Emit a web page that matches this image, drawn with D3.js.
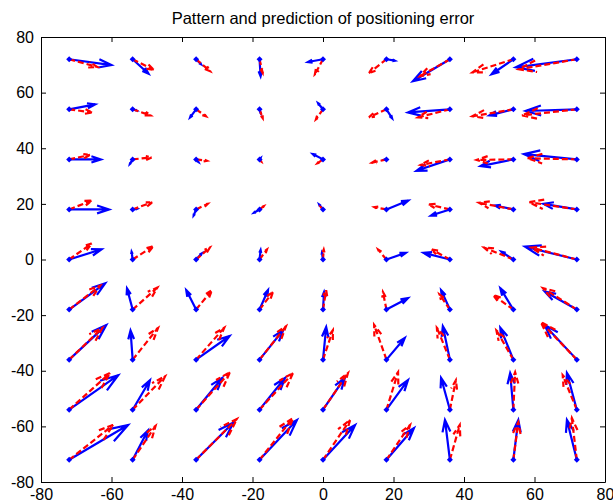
<html>
<head>
<meta charset="UTF-8">
<script src="https://d3js.org/d3.v7.min.js"></script>
<style>
    body { margin: 0; background: #fff; }
    text { font-family: "Liberation Sans", Arial, sans-serif; }
</style>
</head>
<body>
<svg width="613" height="503" id="canvas"></svg>
<script>
    // grid positions
    var gridX = [-72, -54, -36, -18, 0, 18, 36, 54, 72];
    var gridY = [72, 54, 36, 18, 0, -18, -36, -54, -72];
    var xTicks = [-80, -60, -40, -20, 0, 20, 40, 60, 80];
    var yTicks = [-80, -60, -40, -20, 0, 20, 40, 60, 80];

    // prediction (blue), one row per gridY value
    var blueU = [
        [12.0, 4.5, 1.4, 0.3, -4.3, 2.4, -10.5, -6.2, -17.3],
        [7.4, 1.1, -1.7, 0.3, -1.4, 1.6, -11.9, -6.8, -14.5],
        [9.0, -0.8, 0.7, 0.3, -2.9, -0.5, -9.5, -9.3, -15.0],
        [11.3, 1.2, -0.7, -1.6, -1.1, 6.2, -5.4, -5.2, -9.5],
        [9.2, -0.3, 1.6, 0.3, -0.3, 5.5, -7.5, -3.4, -14.7],
        [10.2, -1.6, -2.8, 2.4, 0.3, 6.1, -2.5, -3.7, -9.1],
        [10.5, -0.6, 9.5, 6.7, 0.9, 5.2, -2.0, -3.7, -9.1],
        [13.9, 4.9, 7.4, 7.2, 6.2, 6.1, -2.5, -0.9, -2.8],
        [16.7, 4.3, 10.6, 10.6, 9.1, 7.8, -1.4, 1.4, -2.8]
    ];
    var blueV = [
        [-2.1, -5.2, -1.8, -6.1, -1.0, -0.5, -7.9, -5.4, -2.9],
        [1.8, -0.4, -2.9, -1.4, 2.2, -3.2, -1.1, -2.2, -0.6],
        [0, -1.7, -1.0, 0.5, 1.9, 0, -4.1, -2.4, 1.9],
        [0, 0.2, -2.2, -1.2, 1.8, 3.2, -2.2, 1.4, 2.0],
        [3.7, 2.8, 2.2, 3.4, 2.4, 2.4, 2.4, 2.8, 4.6],
        [9.4, 7.6, 7.0, 7.0, 6.3, 4.1, 7.0, 7.7, 6.5],
        [12.4, 10.5, 8.5, 10.6, 11.7, 7.8, 12.0, 11.5, 12.4],
        [12.4, 10.6, 11.4, 11.4, 11.4, 10.6, 11.4, 13.2, 13.2],
        [12.5, 10.5, 13.4, 14.3, 12.5, 11.4, 14.3, 14.3, 14.3]
    ];
    // pattern (red)
    var redU = [
        [8.0, 6.0, 4.0, 0.9, -2.3, -5.0, -8.5, -11.6, -16.5],
        [6.5, 5.1, 2.8, 0.9, -2.0, -5.0, -9.1, -11.6, -15.6],
        [5.9, 5.4, 3.1, 0.5, -1.6, -4.1, -8.3, -10.4, -14.0],
        [6.4, 5.6, 3.3, 1.2, -0.6, -3.4, -6.0, -9.8, -13.5],
        [6.4, 5.9, 3.9, 2.1, 0.2, -2.4, -5.2, -8.3, -12.9],
        [8.8, 7.0, 4.5, 3.8, 0.9, -1.0, -3.0, -5.7, -9.6],
        [9.4, 7.2, 8.0, 7.5, 2.8, -3.5, -3.7, -4.8, -10.2],
        [11.6, 9.2, 9.6, 9.5, 7.1, 3.3, 1.7, 0.5, -4.0],
        [12.5, 6.5, 11.6, 9.5, 7.7, 6.7, 2.8, 1.4, -1.4]
    ];
    var redV = [
        [-2.8, -3.8, -4.3, -5.0, -5.4, -5.0, -6.1, -4.7, -3.6],
        [-1.1, -2.2, -2.5, -3.2, -3.6, -2.9, -2.9, -2.5, -2.2],
        [1.6, 0.7, -0.5, -0.8, -1.4, -1.2, -2.0, -0.2, 0.4],
        [3.2, 2.6, 2.0, 1.2, 0.8, 0.8, 1.8, 2.4, 2.6],
        [5.8, 4.8, 4.3, 3.6, 3.6, 3.6, 3.6, 4.3, 4.3],
        [8.6, 7.9, 7.0, 6.3, 7.0, 6.3, 5.5, 5.2, 7.7],
        [11.4, 11.4, 11.5, 12.0, 10.6, 12.5, 11.5, 10.5, 13.5],
        [13.2, 12.0, 13.5, 13.2, 13.2, 13.5, 10.6, 13.5, 12.4],
        [12.5, 12.2, 14.7, 15.0, 14.3, 12.5, 12.5, 13.5, 15.0]
    ];

    var svg = d3.select("#canvas");
    var mLeft = 41, mTop = 37, width = 564, height = 445;

    var x = d3.scaleLinear().domain([-80, 80]).range([mLeft, mLeft + width]);
    var y = d3.scaleLinear().domain([-80, 80]).range([mTop + height, mTop]);

    svg.append("text")
        .attr("x", mLeft + width / 2)
        .attr("y", 24)
        .attr("text-anchor", "middle")
        .style("font-size", "16.5px")
        .text("Pattern and prediction of positioning error");

    // build arrow list from the arrays
    function arrows(U, V) {
        var out = [];
        gridY.forEach(function (gy, i) {
            gridX.forEach(function (gx, j) {
                out.push({ x: gx, y: gy, u: U[i][j], v: V[i][j] });
            });
        });
        return out;
    }

    function arrowPath(d) {
        var x0 = x(d.x), y0 = y(d.y);
        var x1 = x(d.x + d.u), y1 = y(d.y + d.v);
        var dx = x1 - x0, dy = y1 - y0;
        var a = 0.3, b = 0.33;
        var p = "M" + x0 + "," + y0 + "L" + x1 + "," + y1;
        p += "M" + (x1 - a * (dx + b * dy)) + "," + (y1 - a * (dy - b * dx)) + "L" + x1 + "," + y1;
        p += "L" + (x1 - a * (dx - b * dy)) + "," + (y1 - a * (dy + b * dx));
        return p;
    }

    var plot = svg.append("g");

    plot.selectAll(".blue")
        .data(arrows(blueU, blueV))
        .enter()
        .append("path")
        .attr("class", "blue")
        .attr("d", arrowPath)
        .attr("fill", "none")
        .attr("stroke", "#0000ff")
        .attr("stroke-width", 2.2);

    plot.selectAll(".red")
        .data(arrows(redU, redV))
        .enter()
        .append("path")
        .attr("class", "red")
        .attr("d", arrowPath)
        .attr("fill", "none")
        .attr("stroke", "#ff0000")
        .attr("stroke-width", 2.2)
        .attr("stroke-dasharray", "6,3");

    plot.selectAll(".dot")
        .data(arrows(blueU, blueV))
        .enter()
        .append("path")
        .attr("class", "dot")
        .attr("d", function (d) {
            var cx = x(d.x), cy = y(d.y);
            return "M" + (cx - 3) + "," + cy + "L" + cx + "," + (cy - 3) + "L" + (cx + 3) + "," + cy + "L" + cx + "," + (cy + 3) + "Z";
        })
        .attr("fill", "#0000ff");

    // axes, ticks inside on all four sides
    function styleAxis(g) {
        g.selectAll("path, line").attr("stroke", "#000");
        g.selectAll("text").style("font-size", "16px").attr("fill", "#000")
            .style("font-family", "'Liberation Sans', Arial, sans-serif");
    }
    var fmt = function (d) { return String(d); };

    svg.append("g")
        .attr("transform", "translate(0," + (mTop + height) + ")")
        .call(d3.axisBottom(x).tickValues(xTicks).tickSizeInner(-5).tickSizeOuter(0).tickPadding(7).tickFormat(fmt))
        .call(styleAxis);
    svg.append("g")
        .attr("transform", "translate(0," + mTop + ")")
        .call(d3.axisTop(x).tickValues(xTicks).tickSizeInner(-5).tickSizeOuter(0).tickFormat(""))
        .call(styleAxis);
    svg.append("g")
        .attr("transform", "translate(" + mLeft + ",0)")
        .call(d3.axisLeft(y).tickValues(yTicks).tickSizeInner(-5).tickSizeOuter(0).tickPadding(7).tickFormat(fmt))
        .call(styleAxis);
    svg.append("g")
        .attr("transform", "translate(" + (mLeft + width) + ",0)")
        .call(d3.axisRight(y).tickValues(yTicks).tickSizeInner(-5).tickSizeOuter(0).tickFormat(""))
        .call(styleAxis);
</script>
</body>
</html>
